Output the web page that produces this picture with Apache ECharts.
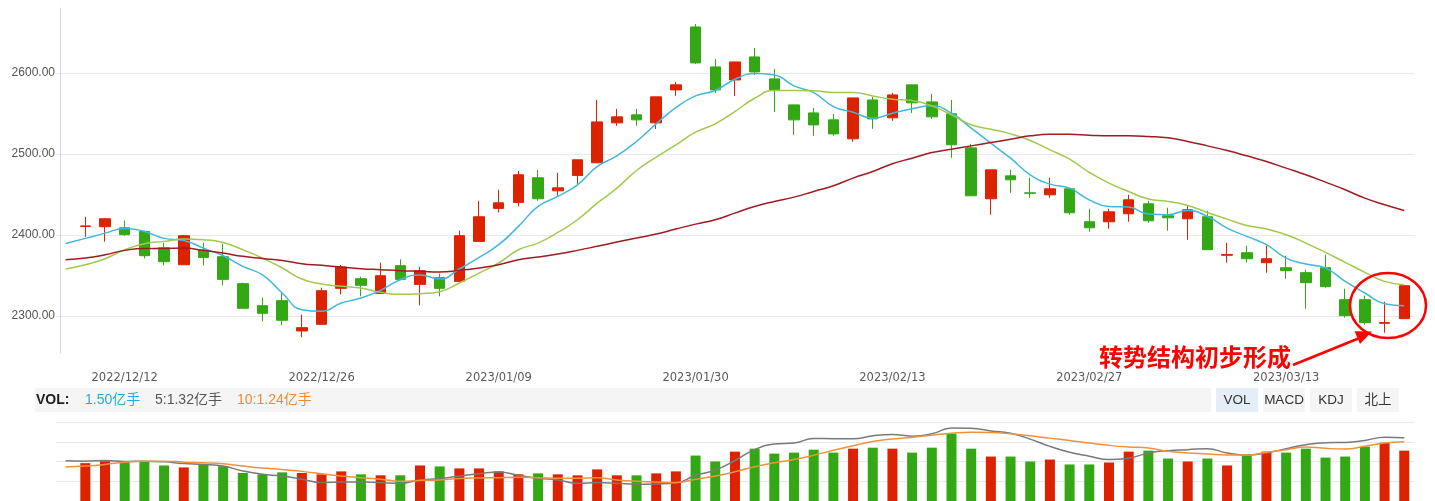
<!DOCTYPE html>
<html><head><meta charset="utf-8">
<script src="https://cdn.jsdelivr.net/npm/echarts@6/dist/echarts.min.js"></script>
<style>html,body{margin:0;padding:0;background:#fff;overflow:hidden}#c{width:1435px;height:501px}</style>
</head><body><div id="c"></div>
<script>
const dates = ['2022/12/07','2022/12/08','2022/12/09',
 '2022/12/12','2022/12/13','2022/12/14','2022/12/15','2022/12/16',
 '2022/12/19','2022/12/20','2022/12/21','2022/12/22','2022/12/23',
 '2022/12/26','2022/12/27','2022/12/28','2022/12/29','2022/12/30',
 '2023/01/03','2023/01/04','2023/01/05','2023/01/06',
 '2023/01/09','2023/01/10','2023/01/11','2023/01/12','2023/01/13',
 '2023/01/16','2023/01/17','2023/01/18','2023/01/19','2023/01/20',
 '2023/01/30','2023/01/31','2023/02/01','2023/02/02','2023/02/03',
 '2023/02/06','2023/02/07','2023/02/08','2023/02/09','2023/02/10',
 '2023/02/13','2023/02/14','2023/02/15','2023/02/16','2023/02/17',
 '2023/02/20','2023/02/21','2023/02/22','2023/02/23','2023/02/24',
 '2023/02/27','2023/02/28','2023/03/01','2023/03/02','2023/03/03',
 '2023/03/06','2023/03/07','2023/03/08','2023/03/09','2023/03/10',
 '2023/03/13','2023/03/14','2023/03/15','2023/03/16','2023/03/17',
 '2023/03/20','2023/03/21'];
const labelDates = ['2022/12/12','2022/12/26','2023/01/09','2023/01/30','2023/02/13','2023/02/27','2023/03/13'];
const yTickLabels = ['2300.00','2400.00','2500.00','2600.00'];

const opens  = [null,2410.5,2410.2,2408.9,2404.4,2384.3,2363.3,2381.4,2373.2,2339.9,2312.7,2318.9,2281.5,2289.7,2334.1,2346.0,2327.9,2362.1,2339.0,2347.3,2342.7,2392.1,2432.8,2440.2,2470.6,2454.5,2473.5,2489.1,2538.4,2548.3,2538.4,2579.1,2656.8,2607.5,2591.4,2619.8,2592.7,2560.6,2550.7,2542.1,2518.7,2566.7,2544.6,2585.3,2564.3,2549.5,2507.6,2444.7,2473.0,2452.0,2449.6,2457.0,2416.3,2416.3,2426.2,2438.5,2423.7,2420.0,2422.5,2374.9,2378.1,2365.8,2359.6,2353.5,2359.6,2320.1,2320.1,2291.0,2296.7];
const closes = [null,2411.2,2420.0,2400.3,2374.4,2367.0,2399.1,2372.3,2345.2,2309.5,2303.3,2294.7,2285.6,2331.2,2360.4,2337.8,2349.7,2345.2,2355.9,2334.1,2399.1,2422.5,2439.7,2474.3,2444.7,2458.2,2492.8,2539.6,2545.8,2542.1,2570.5,2585.3,2612.4,2579.1,2613.6,2601.3,2579.1,2542.1,2535.9,2524.8,2569.2,2543.3,2572.9,2563.1,2545.8,2511.3,2448.4,2480.4,2468.1,2451.5,2457.0,2427.4,2408.9,2428.6,2443.4,2417.5,2421.2,2431.1,2381.8,2376.0,2370.7,2370.7,2355.9,2341.1,2336.2,2300.4,2291.8,2291.8,2337.4];
const lows   = [null,2397.8,2391.7,2399.1,2371.1,2362.5,2363.0,2362.5,2337.8,2309.0,2293.4,2288.5,2273.7,2289.5,2326.7,2324.3,2327.5,2344.8,2313.2,2324.3,2342.5,2391.8,2427.8,2435.2,2442.2,2448.4,2463.2,2488.9,2534.7,2534.7,2531.0,2571.7,2611.2,2575.4,2571.7,2597.6,2552.0,2523.6,2522.4,2522.4,2515.0,2531.0,2540.9,2550.7,2543.3,2495.2,2448.2,2424.9,2452.1,2445.9,2445.9,2424.9,2404.0,2407.7,2416.3,2415.1,2405.2,2394.1,2381.6,2365.8,2365.8,2353.5,2346.0,2309.0,2334.9,2297.9,2289.3,2279.4,2296.5];
const highs  = [null,2422.5,2420.8,2418.0,2405.2,2390.4,2399.5,2390.4,2389.2,2341.1,2322.6,2328.8,2301.6,2334.9,2362.9,2348.5,2365.8,2369.9,2360.8,2352.2,2405.2,2442.2,2455.8,2479.2,2480.4,2476.7,2493.0,2566.7,2555.7,2555.7,2570.7,2589.0,2660.5,2617.3,2613.8,2630.9,2605.0,2560.8,2556.9,2549.5,2569.4,2570.5,2575.4,2585.5,2574.1,2566.7,2512.5,2480.6,2480.4,2470.6,2470.6,2457.2,2432.3,2432.3,2449.6,2442.2,2433.6,2436.0,2429.9,2390.4,2386.7,2386.7,2374.4,2357.1,2375.6,2333.7,2325.1,2317.7,2337.6];

const ma5  = [2389.6,2395.8,2402.3,2408.1,2404.4,2395.8,2393.3,2383.8,2374.4,2361.2,2350.6,2328.4,2307.8,2305.8,2316.0,2322.2,2331.6,2344.8,2350.6,2345.6,2358.0,2372.3,2388.0,2410.6,2435.2,2447.6,2461.9,2484.5,2497.7,2515.4,2537.2,2557.3,2571.7,2578.3,2592.2,2599.2,2597.6,2584.0,2575.8,2558.5,2551.5,2544.1,2550.3,2555.7,2559.4,2550.3,2531.8,2513.3,2494.8,2474.3,2462.8,2457.8,2443.4,2435.2,2434.4,2425.8,2425.0,2430.3,2422.9,2408.5,2398.3,2388.0,2371.5,2364.1,2359.2,2342.7,2328.4,2315.2,2312.7];
const ma10 = [2358.0,2363.3,2370.7,2381.8,2389.2,2392.1,2394.9,2394.1,2390.8,2381.8,2371.5,2359.2,2345.6,2339.5,2336.6,2334.5,2329.2,2326.7,2327.5,2330.0,2340.7,2353.0,2365.4,2381.8,2390.0,2403.1,2418.8,2439.3,2457.8,2479.6,2496.1,2511.3,2526.9,2537.2,2552.4,2568.8,2578.3,2578.3,2577.9,2575.8,2575.8,2571.7,2567.6,2566.0,2559.4,2548.3,2536.0,2530.6,2524.8,2516.6,2505.1,2493.6,2477.2,2464.0,2453.7,2444.3,2441.4,2436.5,2427.8,2419.6,2411.8,2407.3,2400.3,2390.0,2378.5,2366.2,2353.9,2342.7,2338.6];
const ma60 = [2369.5,2371.5,2375.6,2381.0,2383.4,2383.4,2383.8,2381.0,2377.7,2373.6,2371.1,2368.6,2364.5,2362.5,2360.4,2358.4,2357.1,2355.9,2355.1,2354.3,2356.3,2359.2,2363.3,2369.5,2372.8,2376.5,2381.0,2386.0,2391.2,2396.2,2401.1,2407.3,2413.4,2418.8,2427.0,2435.2,2441.4,2446.7,2453.7,2460.7,2470.2,2478.4,2487.9,2494.8,2501.8,2505.9,2510.0,2514.1,2518.2,2522.4,2524.4,2524.4,2523.2,2522.4,2522.4,2521.6,2519.9,2515.4,2510.0,2504.3,2497.7,2490.7,2482.5,2474.3,2465.2,2455.8,2445.5,2437.3,2430.3];

const volumes = [null,1.15,1.21,1.18,1.21,1.08,1.02,1.11,1.06,0.85,0.81,0.87,0.85,0.81,0.90,0.81,0.78,0.78,1.08,1.05,0.99,0.99,0.90,0.81,0.84,0.81,0.78,0.96,0.78,0.78,0.84,0.90,1.38,1.20,1.50,1.59,1.44,1.47,1.56,1.47,1.59,1.62,1.59,1.47,1.62,2.04,1.59,1.35,1.35,1.20,1.26,1.11,1.11,1.17,1.50,1.53,1.29,1.20,1.29,1.08,1.38,1.50,1.47,1.59,1.32,1.35,1.65,1.77,1.53];
const volMa5  = [1.22,1.21,1.23,1.20,1.21,1.19,1.14,1.11,1.06,0.91,0.81,0.76,0.66,0.56,0.58,0.58,0.56,0.54,0.64,0.68,0.76,0.83,0.88,0.78,0.69,0.64,0.54,0.56,0.54,0.51,0.52,0.55,0.78,0.94,1.23,1.56,1.73,1.76,1.90,1.89,1.89,1.98,2.02,1.97,2.04,2.22,2.21,2.13,2.06,1.88,1.66,1.48,1.36,1.26,1.30,1.46,1.53,1.56,1.59,1.46,1.40,1.46,1.59,1.71,1.77,1.78,1.84,1.94,1.92];
const volMa10 = [1.03,1.06,1.11,1.18,1.21,1.21,1.18,1.16,1.13,1.06,1.00,0.96,0.90,0.83,0.76,0.71,0.66,0.60,0.62,0.64,0.68,0.70,0.71,0.72,0.71,0.69,0.69,0.71,0.64,0.60,0.58,0.56,0.66,0.76,0.89,1.04,1.16,1.26,1.39,1.54,1.68,1.81,1.88,1.94,2.00,2.06,2.09,2.08,2.04,1.98,1.91,1.84,1.76,1.69,1.64,1.61,1.51,1.46,1.43,1.40,1.40,1.48,1.56,1.64,1.60,1.58,1.66,1.76,1.80];

const volLegend = [{t:'VOL:', c:'#1e1e1e', bold:true, x:36},{t:'1.50亿手', c:'#2ea7dc', x:85},{t:'5:1.32亿手', c:'#555555', x:155},{t:'10:1.24亿手', c:'#ef8a32', x:237}];
const tabs = ['VOL','MACD','KDJ','北上'];
const note = '转势结构初步形成';

const UP = '#dd2200', DOWN = '#33a814';
const kData = dates.map((d,i)=> opens[i]==null ? '-' : [opens[i], closes[i], lows[i], highs[i]]);
const vData = dates.map((d,i)=> volumes[i]==null ? '-' : {value: volumes[i], itemStyle:{color: closes[i] >= opens[i] ? UP : DOWN}});

const LATIN = "'Liberation Sans','Noto Sans CJK SC',sans-serif";
const graphics = [];
graphics.push({type:'rect', shape:{x:35,y:388,width:1176,height:24}, style:{fill:'#f5f5f5'}, silent:true});
volLegend.forEach(l=>graphics.push({type:'text', x:l.x, y:400, style:{text:l.t, fill:l.c, font:(l.bold?'bold 14px ':'14px ')+LATIN, verticalAlign:'middle', align:'left'}}));
tabs.forEach((t,i)=>{
  const x = 1216 + i*47;
  graphics.push({type:'rect', shape:{x:x,y:388,width:42,height:24}, style:{fill: i===0 ? '#e5edf7' : '#f5f5f5'}});
  graphics.push({type:'text', x:x+21, y:400, style:{text:t, fill:'#333', font:'13.5px '+LATIN, verticalAlign:'middle', align:'center'}});
});
graphics.push({type:'text', x:1099, y:357, style:{text:note, fill:'#ff0000', font:"bold 24px 'Noto Sans CJK SC',sans-serif", verticalAlign:'middle', align:'left'}, z:100});
graphics.push({type:'line', shape:{x1:1293,y1:365,x2:1362,y2:337}, style:{stroke:'#ff0000', lineWidth:2.5}, z:100});
graphics.push({type:'polygon', shape:{points:[[1372,331.5],[1360,344],[1354.6,331.3]]}, style:{fill:'#ff0000'}, z:100});
graphics.push({type:'ellipse', shape:{cx:1388,cy:305.5,rx:38,ry:32.5}, style:{stroke:'#ff0000', fill:null, lineWidth:2.5}, z:100});

const chart = echarts.init(document.getElementById('c'));
chart.setOption({
  animation:false,
  backgroundColor:'#ffffff',
  grid:[{left:55.8,width:1358.3,top:8,height:345},{left:55.8,width:1358.3,top:422,height:80}],
  xAxis:[
    {type:'category', data:dates, gridIndex:0, boundaryGap:true,
     axisLine:{show:false}, axisTick:{show:false}, splitLine:{show:false},
     axisLabel:{interval:(i,v)=>labelDates.includes(v), margin:19, color:'#5a5a5a', fontSize:11.5, fontFamily:'DejaVu Sans'}},
    {type:'category', data:dates, gridIndex:1, boundaryGap:true,
     axisLine:{show:false}, axisTick:{show:false}, axisLabel:{show:false}, splitLine:{show:false}}
  ],
  yAxis:[
    {type:'value', gridIndex:0, min:2254.3, max:2680.2, splitNumber:4, scale:true, offset:-4.2,
     axisLine:{show:true, lineStyle:{color:'#d3d8e2'}}, axisTick:{show:false},
     axisLabel:{margin:5, color:'#555', fontSize:12, fontFamily:'Liberation Sans', showMinLabel:false, showMaxLabel:false,
       formatter:v=>{const s=v.toFixed(2); return yTickLabels.includes(s)?s:'';}},
     splitLine:{show:true, showMinLine:false, showMaxLine:false, lineStyle:{color:'#e8e9ef'}}},
    {type:'value', gridIndex:1, min:0, max:2.4, interval:0.6,
     axisLine:{show:false}, axisTick:{show:false}, axisLabel:{show:false},
     splitLine:{show:true, showMinLine:false, lineStyle:{color:'#e8e9ef'}}}
  ],
  series:[
    {type:'candlestick', name:'K', data:kData, xAxisIndex:0, yAxisIndex:0, barWidth:11,
     itemStyle:{color:UP, color0:DOWN, borderColor:UP, borderColor0:DOWN, borderWidth:1}},
    {type:'line', name:'MA5', data:ma5, smooth:true, showSymbol:false, lineStyle:{color:'#42b7dc', width:1.5}, z:3},
    {type:'line', name:'MA10', data:ma10, smooth:true, showSymbol:false, lineStyle:{color:'#a3c94c', width:1.5}, z:3},
    {type:'line', name:'MA60', data:ma60, smooth:true, showSymbol:false, lineStyle:{color:'#9e1c22', width:1.5}, z:3},
    {type:'bar', name:'VOL', data:vData, xAxisIndex:1, yAxisIndex:1, barWidth:10},
    {type:'line', name:'VMA5', data:volMa5, xAxisIndex:1, yAxisIndex:1, smooth:true, showSymbol:false, lineStyle:{color:'#7a7a7a', width:1.5}, z:3},
    {type:'line', name:'VMA10', data:volMa10, xAxisIndex:1, yAxisIndex:1, smooth:true, showSymbol:false, lineStyle:{color:'#f0913c', width:1.5}, z:3}
  ],
  graphic:graphics
});
</script></body></html>
